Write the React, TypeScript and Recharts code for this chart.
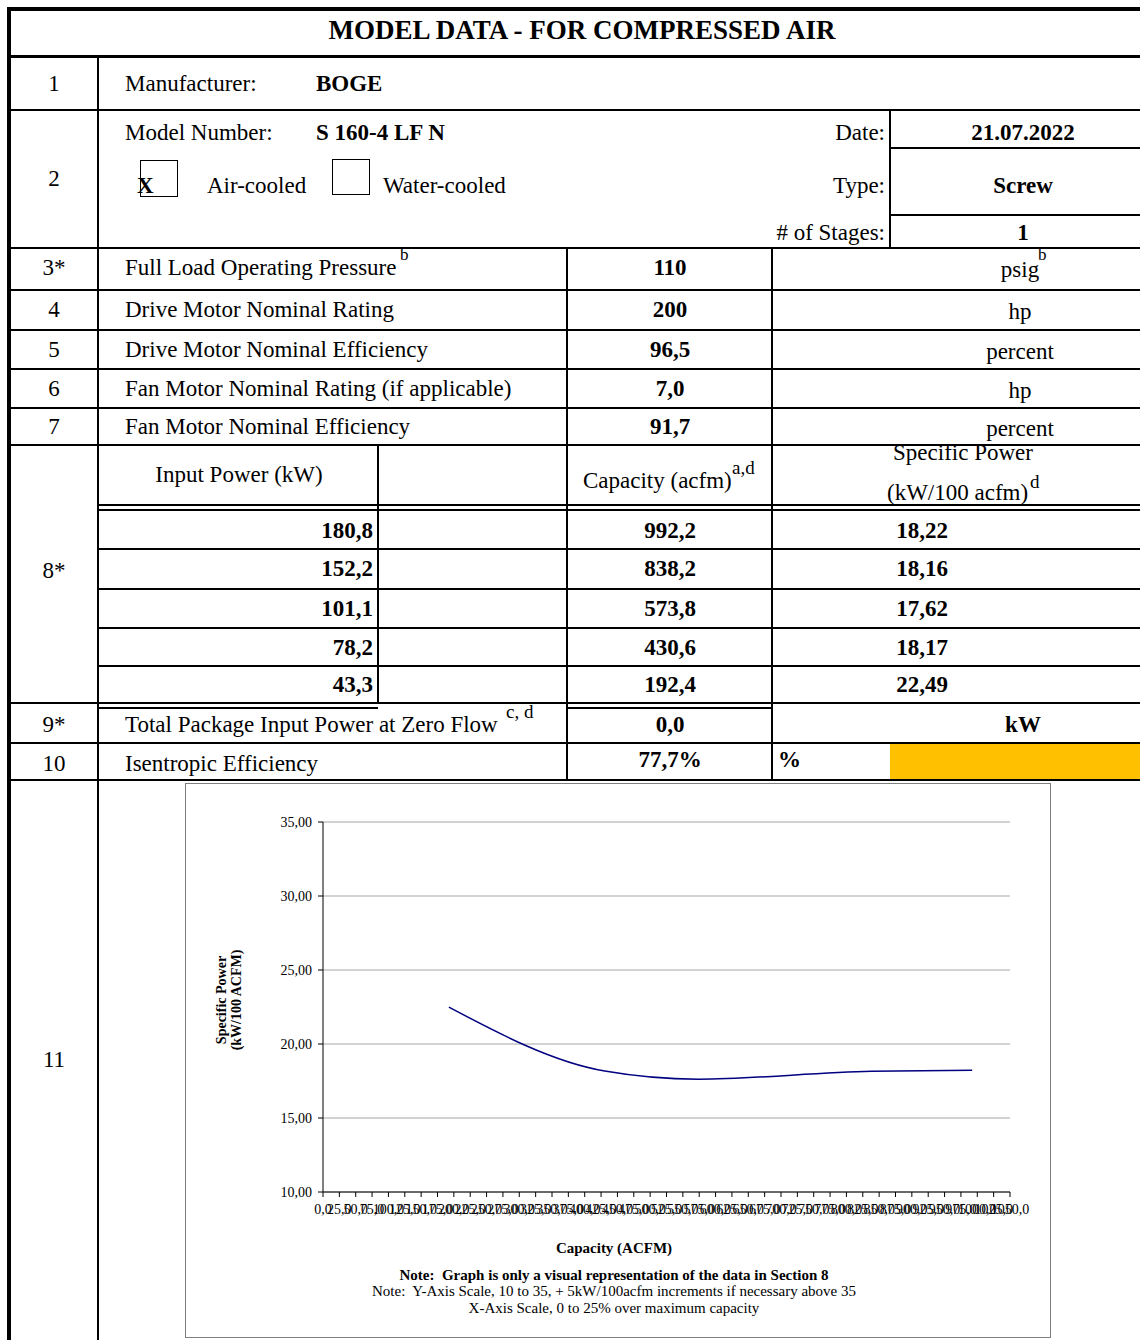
import React from "react";
import { CartesianGrid, Label, Line, LineChart, XAxis, YAxis } from "recharts";

// section 8 of the sheet, in table order
const inputPower = [180.8, 152.2, 101.1, 78.2, 43.3];
const capacity = [992.2, 838.2, 573.8, 430.6, 192.4];
const specificPower = [18.22, 18.16, 17.62, 18.17, 22.49];

// rows 3-7
const specNumbers = ["3*", "4", "5", "6", "7"];
const specLabels = [
  "Full Load Operating Pressure",
  "Drive Motor Nominal Rating",
  "Drive Motor Nominal Efficiency",
  "Fan Motor Nominal Rating (if applicable)",
  "Fan Motor Nominal Efficiency",
];
const specValues = ["110", "200", "96,5", "7,0", "91,7"];
const specUnits = ["psig", "hp", "percent", "hp", "percent"];

const yTicks = [10, 15, 20, 25, 30, 35];
const xTicks = Array.from({ length: 43 }, (_, i) => i * 25);

const SERIF = "'Liberation Serif', 'Times New Roman', serif";

const comma = (v: number, d: number) => v.toFixed(d).replace(".", ",");

function Txt({
  x,
  y,
  w = 460,
  align = "left",
  bold = false,
  size = 23,
  children,
}: {
  x: number;
  y: number;
  w?: number;
  align?: "left" | "center" | "right";
  bold?: boolean;
  size?: number;
  children: React.ReactNode;
}) {
  const lh = Math.round(size * 1.2);
  const left = align === "left" ? x : align === "center" ? x - w / 2 : x - w;
  return (
    <div
      style={{
        position: "absolute",
        top: y - lh / 2,
        left,
        width: w,
        textAlign: align,
        fontWeight: bold ? "bold" : "normal",
        fontSize: size,
        lineHeight: `${lh}px`,
        whiteSpace: "nowrap",
      }}
    >
      {children}
    </div>
  );
}

const H = ({ x1, x2, y, t = 2 }: { x1: number; x2: number; y: number; t?: number }) => (
  <div style={{ position: "absolute", left: x1, top: y - t / 2, width: x2 - x1, height: t, background: "#000" }} />
);
const V = ({ x, y1, y2, t = 2 }: { x: number; y1: number; y2: number; t?: number }) => (
  <div style={{ position: "absolute", left: x - t / 2, top: y1, width: t, height: y2 - y1, background: "#000" }} />
);

const specRowY = [268, 310, 350, 389, 427];
const specLineY = [248, 290, 330, 369, 408, 445];
const dataRowY = [531, 569, 609, 648, 685];
const dataLineY = [549, 589, 628, 666];

function YTitle() {
  const cx = 40;
  const cy = 216;
  return (
    <text
      transform={`rotate(-90, ${cx}, ${cy})`}
      textAnchor="middle"
      fontFamily={SERIF}
      fontWeight="bold"
      fontSize={14}
      fill="#000"
    >
      <tspan x={cx} y={cy}>
        Specific Power
      </tspan>
      <tspan x={cx} y={cy + 15}>
        (kW/100 ACFM)
      </tspan>
    </text>
  );
}

export default function App() {
  const chartData = capacity
    .map((c, i) => ({ capacity: c, specificPower: specificPower[i] }))
    .sort((a, b) => a.capacity - b.capacity);

  return (
    <div
      style={{
        position: "relative",
        width: 1140,
        height: 1340,
        overflow: "hidden",
        background: "#fff",
        fontFamily: SERIF,
        color: "#000",
      }}
    >
      <style>{"body{margin:0}"}</style>

      {/* outer frame and main grid */}
      <H x1={7} x2={1140} y={9} t={4} />
      <V x={9} y1={7} y2={1340} t={4} />
      <H x1={9} x2={1140} y={56} t={3} />
      <V x={98} y1={56} y2={1340} />
      <H x1={9} x2={1140} y={110} />
      {specLineY.map((y) => (
        <H key={y} x1={9} x2={1140} y={y} />
      ))}
      <V x={567} y1={248} y2={780} />
      <V x={772} y1={248} y2={780} />
      <V x={378} y1={445} y2={703} />
      <H x1={98} x2={1140} y={505} />
      <H x1={98} x2={1140} y={510} />
      {dataLineY.map((y) => (
        <H key={y} x1={98} x2={1140} y={y} />
      ))}
      <H x1={9} x2={1140} y={703} />
      <H x1={98} x2={378} y={708} />
      <H x1={567} x2={772} y={708} />
      <H x1={9} x2={1140} y={743} />
      <H x1={9} x2={1140} y={780} />

      {/* row 2 inner cells */}
      <V x={890} y1={110} y2={248} />
      <H x1={890} x2={1140} y={148} />
      <H x1={890} x2={1140} y={215} />

      {/* title */}
      <Txt x={582} y={30} w={760} align="center" bold size={27}>
        MODEL DATA - FOR COMPRESSED AIR
      </Txt>

      {/* row 1 */}
      <Txt x={54} y={84} w={80} align="center">1</Txt>
      <Txt x={125} y={84}>Manufacturer:</Txt>
      <Txt x={316} y={84} bold>BOGE</Txt>

      {/* row 2 */}
      <Txt x={54} y={179} w={80} align="center">2</Txt>
      <Txt x={125} y={133}>Model Number:</Txt>
      <Txt x={316} y={133} bold>S 160-4 LF N</Txt>
      <div style={{ position: "absolute", left: 140, top: 160, width: 36, height: 35, border: "1px solid #000" }} />
      <Txt x={137} y={186} bold>X</Txt>
      <Txt x={207} y={186}>Air-cooled</Txt>
      <div style={{ position: "absolute", left: 332, top: 159, width: 36, height: 34, border: "1px solid #000" }} />
      <Txt x={383} y={186}>Water-cooled</Txt>
      <Txt x={885} y={133} align="right">Date:</Txt>
      <Txt x={885} y={186} align="right">Type:</Txt>
      <Txt x={885} y={233} align="right"># of Stages:</Txt>
      <Txt x={1023} y={133} w={240} align="center" bold>21.07.2022</Txt>
      <Txt x={1023} y={186} w={240} align="center" bold>Screw</Txt>
      <Txt x={1023} y={233} w={240} align="center" bold>1</Txt>

      {/* rows 3-7 */}
      {specLabels.map((label, i) => (
        <React.Fragment key={label}>
          <Txt x={54} y={specRowY[i]} w={80} align="center">{specNumbers[i]}</Txt>
          <Txt x={125} y={specRowY[i]}>{label}</Txt>
          <Txt x={670} y={specRowY[i]} w={200} align="center" bold>{specValues[i]}</Txt>
          <Txt x={1020} y={specRowY[i] + 2} w={240} align="center">{specUnits[i]}</Txt>
        </React.Fragment>
      ))}
      <Txt x={400} y={255} size={17}>b</Txt>
      <Txt x={1038} y={255} size={17}>b</Txt>

      {/* row 8 */}
      <Txt x={54} y={571} w={80} align="center">8*</Txt>
      <Txt x={239} y={475} w={280} align="center">Input Power (kW)</Txt>
      <Txt x={583} y={481}>Capacity (acfm)</Txt>
      <Txt x={732} y={467} size={19}>a,d</Txt>
      <Txt x={963} y={453} w={300} align="center">Specific Power</Txt>
      <Txt x={887} y={493}>(kW/100 acfm)</Txt>
      <Txt x={1030} y={481} size={19}>d</Txt>
      {inputPower.map((p, i) => (
        <React.Fragment key={p}>
          <Txt x={373} y={dataRowY[i]} align="right" bold>{comma(p, 1)}</Txt>
          <Txt x={670} y={dataRowY[i]} w={200} align="center" bold>{comma(capacity[i], 1)}</Txt>
          <Txt x={922} y={dataRowY[i]} w={200} align="center" bold>{comma(specificPower[i], 2)}</Txt>
        </React.Fragment>
      ))}

      {/* row 9 */}
      <Txt x={54} y={725} w={80} align="center">9*</Txt>
      <Txt x={125} y={725}>Total Package Input Power at Zero Flow</Txt>
      <Txt x={506} y={711} size={19}>c, d</Txt>
      <Txt x={670} y={725} w={200} align="center" bold>0,0</Txt>
      <Txt x={1023} y={725} w={240} align="center" bold>kW</Txt>

      {/* row 10 */}
      <div style={{ position: "absolute", left: 890, top: 744, width: 250, height: 35, background: "#FFC000" }} />
      <Txt x={54} y={764} w={80} align="center">10</Txt>
      <Txt x={125} y={764}>Isentropic Efficiency</Txt>
      <Txt x={670} y={760} w={200} align="center" bold>77,7%</Txt>
      <Txt x={778} y={760} bold>%</Txt>

      {/* row 11 */}
      <Txt x={54} y={1060} w={80} align="center">11</Txt>
      <div
        style={{
          position: "absolute",
          left: 185,
          top: 783,
          width: 864,
          height: 553,
          border: "1px solid #808080",
          background: "#fff",
        }}
      >
        <LineChart
          width={863}
          height={470}
          data={chartData}
          margin={{ top: 38, right: 39, bottom: 32, left: 0 }}
          style={{ fontFamily: SERIF }}
        >
          <CartesianGrid vertical={false} stroke="#a6a6a6" />
          <XAxis
            dataKey="capacity"
            type="number"
            domain={[0, 1050]}
            ticks={xTicks}
            interval={0}
            tickFormatter={(v: number) => comma(v, 1)}
            tick={{ fontSize: 14, fill: "#000", fontFamily: SERIF }}
            tickSize={5}
            tickMargin={7}
            height={30}
            stroke="#000"
            allowDataOverflow
          />
          <YAxis
            type="number"
            domain={[10, 35]}
            ticks={yTicks}
            interval={0}
            tickFormatter={(v: number) => comma(v, 2)}
            tick={{ fontSize: 14, fill: "#000", fontFamily: SERIF }}
            tickSize={5}
            tickMargin={6}
            width={137}
            stroke="#000"
          >
            <Label content={() => <YTitle />} />
          </YAxis>
          <Line
            type="monotone"
            dataKey="specificPower"
            stroke="#000080"
            strokeWidth={1.5}
            dot={false}
            isAnimationActive={false}
          />
        </LineChart>
        <Txt x={428} y={464} w={400} align="center" bold size={15}>
          Capacity (ACFM)
        </Txt>
        <Txt x={428} y={491} w={760} align="center" bold size={15}>
          Note:&nbsp; Graph is only a visual representation of the data in Section 8
        </Txt>
        <Txt x={428} y={507} w={760} align="center" size={15}>
          Note:&nbsp; Y-Axis Scale, 10 to 35, + 5kW/100acfm increments if necessary above 35
        </Txt>
        <Txt x={428} y={524} w={760} align="center" size={15}>
          X-Axis Scale, 0 to 25% over maximum capacity
        </Txt>
      </div>
    </div>
  );
}
